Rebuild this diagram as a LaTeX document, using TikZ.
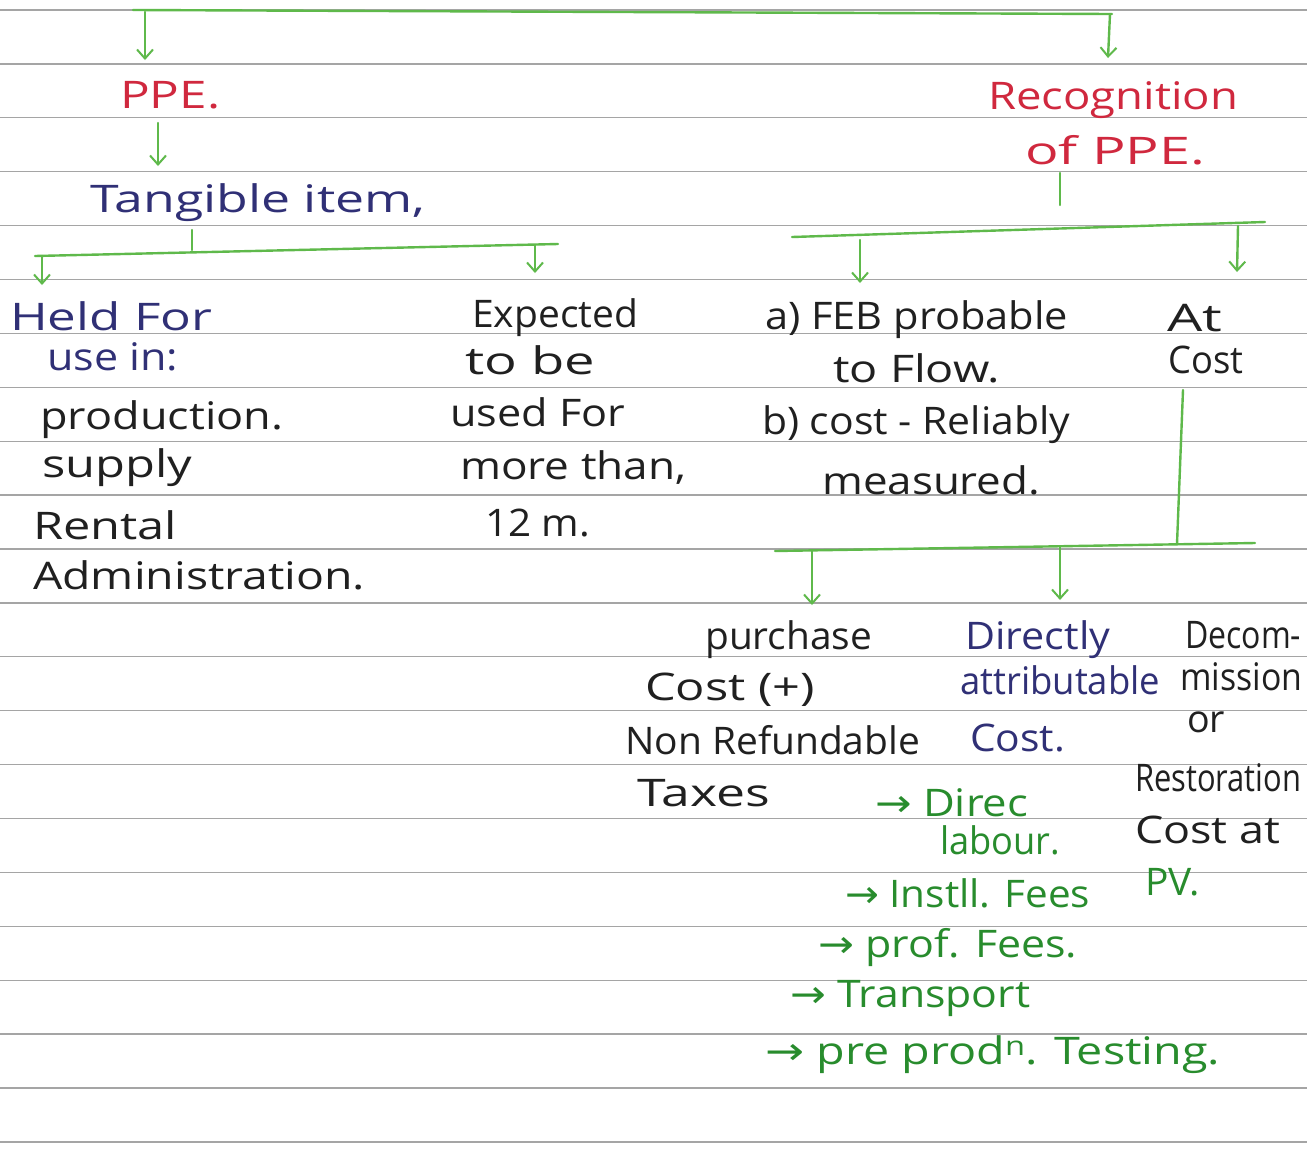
\documentclass[tikz,border=0pt]{standalone}
\usepackage{fontspec}
\usepackage{graphicx}
\setmainfont{Open Sans}
\newfontfamily\arrowfont{DejaVu Sans}
\usetikzlibrary{arrows.meta}
\definecolor{inkred}{RGB}{208,40,62}
\definecolor{inknavy}{RGB}{48,48,118}
\definecolor{inkblack}{RGB}{32,32,32}
\definecolor{inkgreen}{RGB}{40,140,45}
\definecolor{penline}{RGB}{95,185,75}
\definecolor{ruleline}{RGB}{165,165,165}
\newcommand{\hwbox}[2]{\resizebox{#1pt}{\height}{#2}}
\newcommand{\rarr}{{\arrowfont →}}
\begin{document}
\begin{tikzpicture}[x=1pt,y=-1pt,
  hw/.style={anchor=west, inner sep=0pt, font=\fontsize{38}{42}\selectfont},
  red/.style={hw, text=inkred},
  navy/.style={hw, text=inknavy},
  blk/.style={hw, text=inkblack},
  grn/.style={hw, text=inkgreen},
  pen/.style={draw=penline, line width=2.4pt, line cap=round},
  penarrow/.style={pen, -{Straight Barb[length=9pt,width=16pt,line width=2pt]}},
  rulestyle/.style={draw=ruleline, line width=1.3pt}]
\useasboundingbox (0,0) rectangle (1307,1152);
\clip (0,0) rectangle (1307,1152);
\fill[white] (0,0) rectangle (1307,1152);
\foreach \k in {0,...,21} \draw[rulestyle] (0,{10+53.9*\k}) -- (1307,{10+53.9*\k});

% ---------- texts ----------
\node[red]  (ppe)   at (120,95)  {\hwbox{100}{PPE.}};
\node[navy] (tang)  at (90,203)  {\hwbox{335}{Tangible item,}};
\node[navy] (held1) at (10,316)  {\hwbox{202}{Held For}};
\node[navy] (held2) at (47,357)  {\hwbox{131}{use in:}};
\node[blk]  (prod)  at (40,420)  {\hwbox{243}{production.}};
\node[blk]  (supp)  at (42,468)  {\hwbox{150}{supply}};
\node[blk]  (rent)  at (33,525)  {\hwbox{144}{Rental}};
\node[blk]  (admin) at (33,575)  {\hwbox{332}{Administration.}};

\node[blk] (exp1) at (472,318) {\hwbox{166}{Expected}};
\node[blk] (exp2) at (465,360) {\hwbox{130}{to be}};
\node[blk] (exp3) at (450,412) {\hwbox{175}{used For}};
\node[blk] (exp4) at (460,468) {\hwbox{226}{more than,}};
\node[blk] (exp5) at (485,523) {\hwbox{105}{12 m.}};

\node[red] (rec1) at (988,100)  {\hwbox{250}{Recognition}};
\node[red] (rec2) at (1025,150) {\hwbox{180}{of PPE.}};

\node[blk] (crit1) at (765,320) {\hwbox{303}{a) FEB probable}};
\node[blk] (crit2) at (833,368) {\hwbox{167}{to Flow.}};
\node[blk] (crit3) at (762,425) {\hwbox{308}{b) cost - Reliably}};
\node[blk] (crit4) at (822,480) {\hwbox{218}{measured.}};

\node[blk] (at1) at (1167,318) {\hwbox{55}{At}};
\node[blk] (at2) at (1168,360) {\hwbox{75}{Cost}};

\node[blk] (pur1) at (705,640) {\hwbox{167}{purchase}};
\node[blk] (pur2) at (645,690) {\hwbox{170}{Cost (+)}};
\node[blk] (pur3) at (625,740) {\hwbox{295}{Non Refundable}};
\node[blk] (pur4) at (637,793) {\hwbox{133}{Taxes}};

\node[navy] (dir1) at (965,640) {\hwbox{145}{Directly}};
\node[navy] (dir2) at (960,680) {\hwbox{200}{attributable}};
\node[navy] (dir3) at (970,738) {\hwbox{95}{Cost.}};

\node[blk] (dec1) at (1185,635) {\hwbox{116}{Decom-}};
\node[blk] (dec2) at (1180,677) {\hwbox{122}{mission}};
\node[blk] (dec3) at (1187,722) {\hwbox{38}{or}};
\node[blk] (dec4) at (1135,778) {\hwbox{166}{Restoration}};
\node[blk] (dec5) at (1135,830) {\hwbox{145}{Cost at}};
\node[grn] (dec6) at (1145,882) {\hwbox{55}{PV.}};

\node[grn] (g1a) at (875,803)  {\hwbox{153}{\rarr\ Direc}};
\node[grn] (g1b) at (940,840)  {\hwbox{120}{labour.}};
\node[grn] (g2)  at (845,893)  {\hwbox{245}{\rarr\ Instll. Fees}};
\node[grn] (g3)  at (818,948)  {\hwbox{259}{\rarr\ prof. Fees.}};
\node[grn] (g4)  at (790,998)  {\hwbox{240}{\rarr\ Transport}};
\node[grn] (g5)  at (765,1055) {\hwbox{455}{\rarr\ pre prod\textsuperscript{n}. Testing.}};

% ---------- connector points ----------
\coordinate (topL)  at (133,10);
\coordinate (topR)  at (1112,14);
\coordinate (topA)  at (145,12);
\coordinate (topAe) at (145,60);
\coordinate (topB)  at (1110,14);
\coordinate (topBe) at (1108,58);

\coordinate (ppeA)  at (158,123);
\coordinate (ppeAe) at (158,166);

\coordinate (tgT)  at (192,230);
\coordinate (tgTb) at (192,250);
\coordinate (tgL)  at (35,256);
\coordinate (tgR)  at (558,244);
\coordinate (tgA)  at (42,256);
\coordinate (tgAe) at (42,285);
\coordinate (tgB)  at (535,245);
\coordinate (tgBe) at (535,273);

\coordinate (rcT)  at (1060,173);
\coordinate (rcTb) at (1060,205);
\coordinate (rcL)  at (792,237);
\coordinate (rcR)  at (1265,222);
\coordinate (rcA)  at (860,240);
\coordinate (rcAe) at (860,283);
\coordinate (rcB)  at (1238,226);
\coordinate (rcBe) at (1237,272);

\coordinate (acT)  at (1183,390);
\coordinate (acB)  at (1177,544);
\coordinate (cbL)  at (775,551);
\coordinate (cbR)  at (1255,543);
\coordinate (cbA)  at (812,551);
\coordinate (cbAe) at (812,605);
\coordinate (cbB)  at (1060,547);
\coordinate (cbBe) at (1060,600);

% ---------- connectors ----------
\draw[pen] (topL) -- (topR);
\draw[penarrow] (topA) -- (topAe);
\draw[penarrow] (topB) -- (topBe);
\draw[penarrow] (ppeA) -- (ppeAe);

\draw[pen] (tgT) -- (tgTb);
\draw[pen] (tgL) -- (tgR);
\draw[penarrow] (tgA) -- (tgAe);
\draw[penarrow] (tgB) -- (tgBe);

\draw[pen] (rcT) -- (rcTb);
\draw[pen] (rcL) -- (rcR);
\draw[penarrow] (rcA) -- (rcAe);
\draw[penarrow] (rcB) -- (rcBe);

\draw[pen] (acT) -- (acB);
\draw[pen] (cbL) -- (cbR);
\draw[penarrow] (cbA) -- (cbAe);
\draw[penarrow] (cbB) -- (cbBe);
\end{tikzpicture}
\end{document}
